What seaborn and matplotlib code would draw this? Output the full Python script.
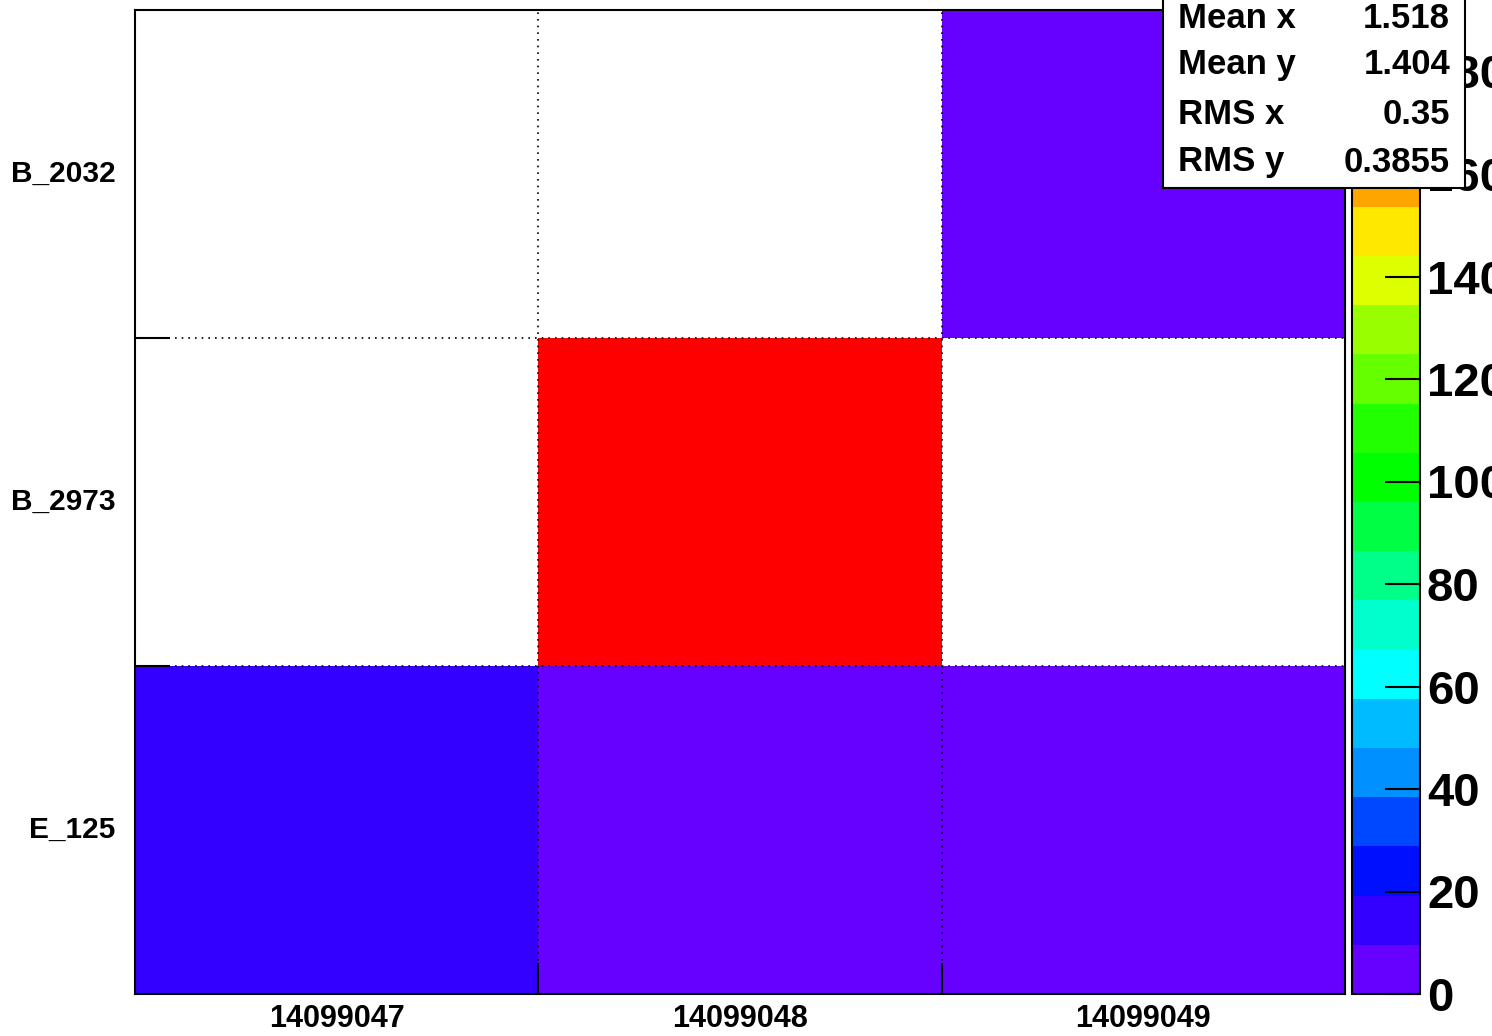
import numpy as np
import pandas as pd
import matplotlib
matplotlib.use("Agg")
import matplotlib.pyplot as plt
from matplotlib.colors import ListedColormap
import seaborn as sns

# ---- data ----
x_labels = ["14099047", "14099048", "14099049"]
y_labels = ["B_2032", "B_2973", "E_125"]          # top to bottom
row_B_2032 = [0, 0, 7]
row_B_2973 = [0, 192, 0]
row_E_125 = [12, 8, 9]
z_max = 192
cbar_ticks = [0, 20, 40, 60, 80, 100, 120, 140, 160, 180]
stats_names = ["Mean x", "Mean y", "RMS x", "RMS y"]
stats_values = ["1.518", "1.404", "0.35", "0.3855"]

palette = ["#6600ff", "#3300ff", "#0010ff", "#0048ff", "#0090ff",
           "#00bbff", "#00ffff", "#00ffcc", "#00ff88", "#00ff44",
           "#00ff00", "#22ff00", "#66ff00", "#99ff00", "#ddff00",
           "#ffe800", "#ffa500", "#ff7000", "#ff3800", "#ff0000"]

df = pd.DataFrame([row_B_2032, row_B_2973, row_E_125], index=y_labels, columns=x_labels)

sns.set_style("white")
plt.rcParams['font.family'] = ['Liberation Sans', 'DejaVu Sans']
plt.rcParams['font.weight'] = 'bold'
plt.rcParams['text.color'] = 'black'
plt.rcParams['xtick.color'] = 'black'
plt.rcParams['ytick.color'] = 'black'
plt.rcParams['xtick.labelcolor'] = 'black'
plt.rcParams['ytick.labelcolor'] = 'black'
plt.rcParams['axes.axisbelow'] = False

W, H = 1492, 1036
fig = plt.figure(figsize=(W / 100, H / 100), dpi=100)
ax = fig.add_axes([135 / W, 1 - 994 / H, (1345 - 135) / W, (994 - 10) / H])
cax = fig.add_axes([1352 / W, 1 - 994 / H, (1420 - 1352) / W, (994 - 10) / H])

cmap = ListedColormap(palette)
sns.heatmap(df, mask=(df == 0), cmap=cmap, vmin=0, vmax=z_max, ax=ax, cbar_ax=cax,
            xticklabels=x_labels, yticklabels=y_labels, linewidths=0)
ax.set_axisbelow(False)
cax.set_axisbelow(False)

# frame
for s in ax.spines.values():
    s.set_visible(True)
    s.set_color("black")
    s.set_linewidth(1.5)

# grid at bin boundaries
for v in (1, 2):
    ax.axvline(v, color="black", lw=1.2, ls=(0, (1, 3)), zorder=3)
    ax.axhline(v, color="black", lw=1.2, ls=(0, (1, 3)), zorder=3)

# labels at bin centers (no tick marks), tick marks at bin edges
ax.tick_params(axis="both", which="major", length=0)
ax.set_xticklabels(x_labels, rotation=0, fontsize=22, fontweight="bold", color="black")
ax.set_yticklabels(y_labels, rotation=0, fontsize=21.5, fontweight="bold", color="black")
ax.tick_params(axis="x", which="major", pad=7)
ax.tick_params(axis="y", which="major", pad=14)
ax.set_xticks([1, 2], minor=True)
ax.set_yticks([1, 2], minor=True)
ax.tick_params(axis="x", which="minor", direction="in", length=22, width=1.5, color="black", bottom=True)
ax.tick_params(axis="y", which="minor", direction="in", length=25, width=1.5, color="black", left=True)
ax.set_xlabel("")
ax.set_ylabel("")

# colorbar
cbar = ax.collections[0].colorbar
cbar.set_ticks(cbar_ticks)
cbar.ax.tick_params(axis="y", direction="in", length=25, width=1.5, color="black", labelsize=34,
                    pad=5, right=True, left=False, labelright=True, labelcolor="black")
for t in cbar.ax.get_yticklabels():
    t.set_fontweight("bold")
cbar.outline.set_edgecolor("black")
cbar.outline.set_linewidth(1.5)

# stats box
sax = fig.add_axes([1163 / W, 1 - 188 / H, (1465 - 1163) / W, 188 / H + 0.01], zorder=10)
sax.set_facecolor("white")
sax.set_xticks([])
sax.set_yticks([])
sax.set_xlim(0, 1)
sax.set_ylim(0, 1)
for s in sax.spines.values():
    s.set_color("black")
    s.set_linewidth(1.5)
ys_px = [18, 64, 115, 162]
box_h = 188 + 0.01 * H
for name, val, yp in zip(stats_names, stats_values, ys_px):
    yy = 1 - (yp + 0.01 * H) / box_h
    sax.text(15 / 302, yy, name, fontsize=25, fontweight="bold", va="center", ha="left",
             transform=sax.transAxes, color="black")
    sax.text(287 / 302, yy, val, fontsize=25, fontweight="bold", va="center", ha="right",
             transform=sax.transAxes, color="black")

fig.savefig("out.png", dpi=100)
